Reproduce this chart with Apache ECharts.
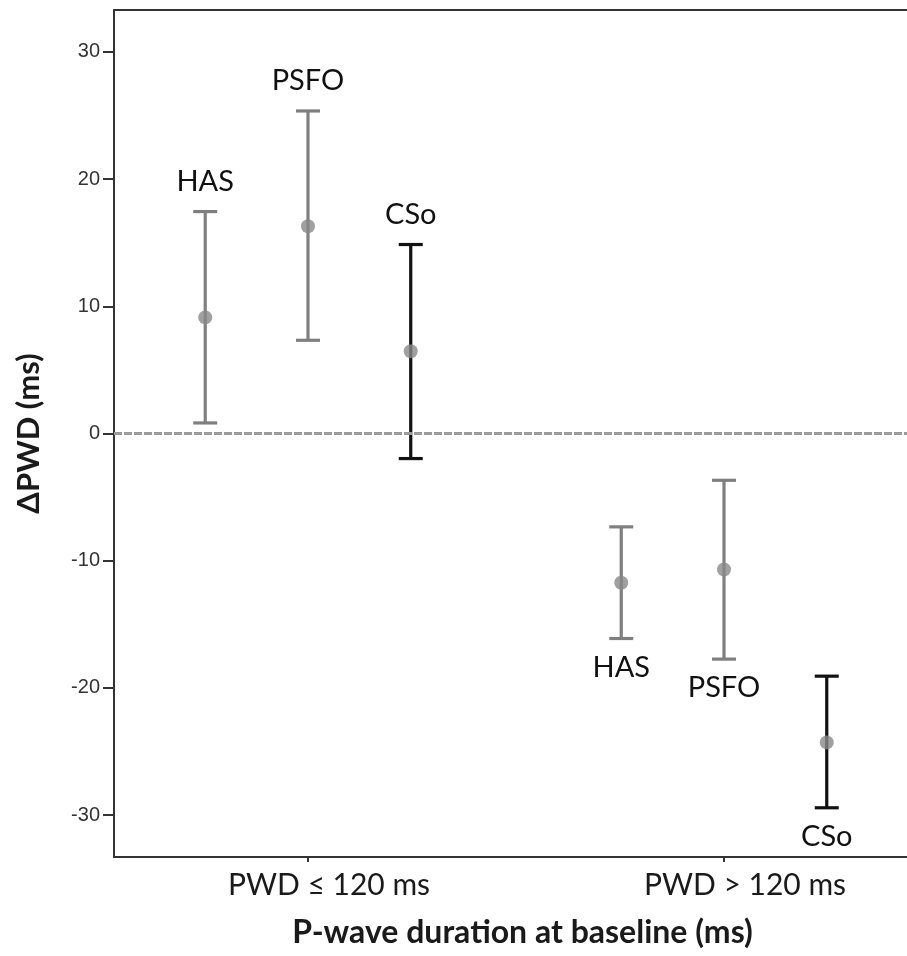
<!DOCTYPE html>
<html>
<head>
<meta charset="utf-8">
<script src="https://cdn.jsdelivr.net/npm/echarts@6/dist/echarts.min.js"></script>
<style>
html,body{margin:0;padding:0;background:#fff;}
#chart{width:907px;height:956px;}
</style>
</head>
<body>
<div id="chart"></div>
<script>
// ---- data ----
const categories = ['PWD ≤ 120 ms', 'PWD > 120 ms'];
const methods = ['HAS', 'PSFO', 'CSo'];
// PWD <= 120 ms
const meanLow  = [9.13, 16.3, 6.47];
const upperLow = [17.45, 25.36, 14.86];
const lowerLow = [0.83, 7.33, -1.97];
// PWD > 120 ms
const meanHigh  = [-11.74, -10.69, -24.29];
const upperHigh = [-7.34, -3.68, -19.08];
const lowerHigh = [-16.12, -17.74, -29.43];
const yTicks = [-30, -20, -10, 0, 10, 20, 30];

// ---- layout / style ----
const dodge = [-0.247, 0, 0.247];
const barColors = {HAS: '#7f7f7f', PSFO: '#7f7f7f', CSo: '#111111'};
const groups = [
  {mean: meanLow, upper: upperLow, lower: lowerLow},
  {mean: meanHigh, upper: upperHigh, lower: lowerHigh}
];

const barData = [], dotData = [];
groups.forEach((g, gi) => {
  methods.forEach((m, mi) => {
    const x = gi + 1 + dodge[mi];
    barData.push([x, g.lower[mi], g.upper[mi], gi, mi]);
    dotData.push([x, g.mean[mi]]);
  });
});

const chart = echarts.init(document.getElementById('chart'));
chart.setOption({
  animation: false,
  backgroundColor: '#fff',
  grid: {left: 114, right: 0, top: 10, bottom: 99, outerBoundsMode: 'none'},
  xAxis: [{
    type: 'value', min: 0.5337, max: 2.4399,
    splitLine: {show: false},
    axisLine: {show: true, onZero: false, lineStyle: {color: '#333', width: 2}},
    axisTick: {show: true, customValues: [1, 2], length: 5, lineStyle: {color: '#333', width: 2}},
    axisLabel: {
      customValues: [1, 2],
      formatter: v => categories[Math.round(v) - 1],
      fontFamily: 'Lato', fontSize: 30, color: '#1a1a1a', margin: 13,
      padding: [0, 0, 0, 42]
    },
    name: 'P-wave duration at baseline (ms)',
    nameLocation: 'middle', nameGap: 60,
    nameTextStyle: {fontFamily: 'Lato', fontWeight: 'bold', fontSize: 32, color: '#1a1a1a', padding: [0, 0, 0, 24]}
  }, {
    type: 'value', position: 'top', min: 0.5337, max: 2.4399,
    splitLine: {show: false},
    axisLine: {show: true, onZero: false, lineStyle: {color: '#333', width: 2}},
    axisTick: {show: false}, axisLabel: {show: false}
  }],
  yAxis: {
    type: 'value', min: -33.3, max: 33.3,
    splitLine: {show: false},
    axisLine: {show: true, onZero: false, lineStyle: {color: '#333', width: 2}},
    axisTick: {show: true, customValues: yTicks, length: 11, lineStyle: {color: '#333', width: 2}},
    axisLabel: {customValues: yTicks, fontFamily: 'Liberation Sans', fontSize: 20, color: '#333', margin: 14},
    name: 'ΔPWD (ms)', nameLocation: 'middle', nameGap: 70, nameRotate: 90,
    nameTextStyle: {fontFamily: 'Lato', fontWeight: 'bold', fontSize: 31, color: '#1a1a1a'}
  },
  series: [{
    type: 'line', data: [], silent: true,
    markLine: {
      symbol: 'none', silent: true, label: {show: false},
      lineStyle: {color: '#9a9a9a', width: 3, type: [8, 2]},
      data: [{yAxis: 0}]
    }
  }, {
    type: 'custom',
    data: barData,
    renderItem: (params, api) => {
      const x = api.value(0), lo = api.value(1), hi = api.value(2);
      const gi = api.value(3), mi = api.value(4);
      const top = api.coord([x, hi]), bot = api.coord([x, lo]);
      const color = barColors[methods[mi]];
      const cap = 12;
      const st = {stroke: color, lineWidth: 3.2};
      const labelY = gi === 0 ? top[1] - 30 : bot[1] + 29;
      return {type: 'group', children: [
        {type: 'line', shape: {x1: top[0], y1: top[1], x2: bot[0], y2: bot[1]}, style: st},
        {type: 'line', shape: {x1: top[0] - cap, y1: top[1], x2: top[0] + cap, y2: top[1]}, style: st},
        {type: 'line', shape: {x1: bot[0] - cap, y1: bot[1], x2: bot[0] + cap, y2: bot[1]}, style: st},
        {type: 'text', x: top[0], y: labelY, style: {
          text: methods[mi], fontFamily: 'Lato', fontSize: 29, fill: '#111',
          align: 'center', verticalAlign: 'middle'}}
      ]};
    },
    z: 3
  }, {
    type: 'scatter', data: dotData, symbol: 'circle', symbolSize: 14,
    itemStyle: {color: '#888888'}, z: 4
  }]
});
</script>
</body>
</html>
